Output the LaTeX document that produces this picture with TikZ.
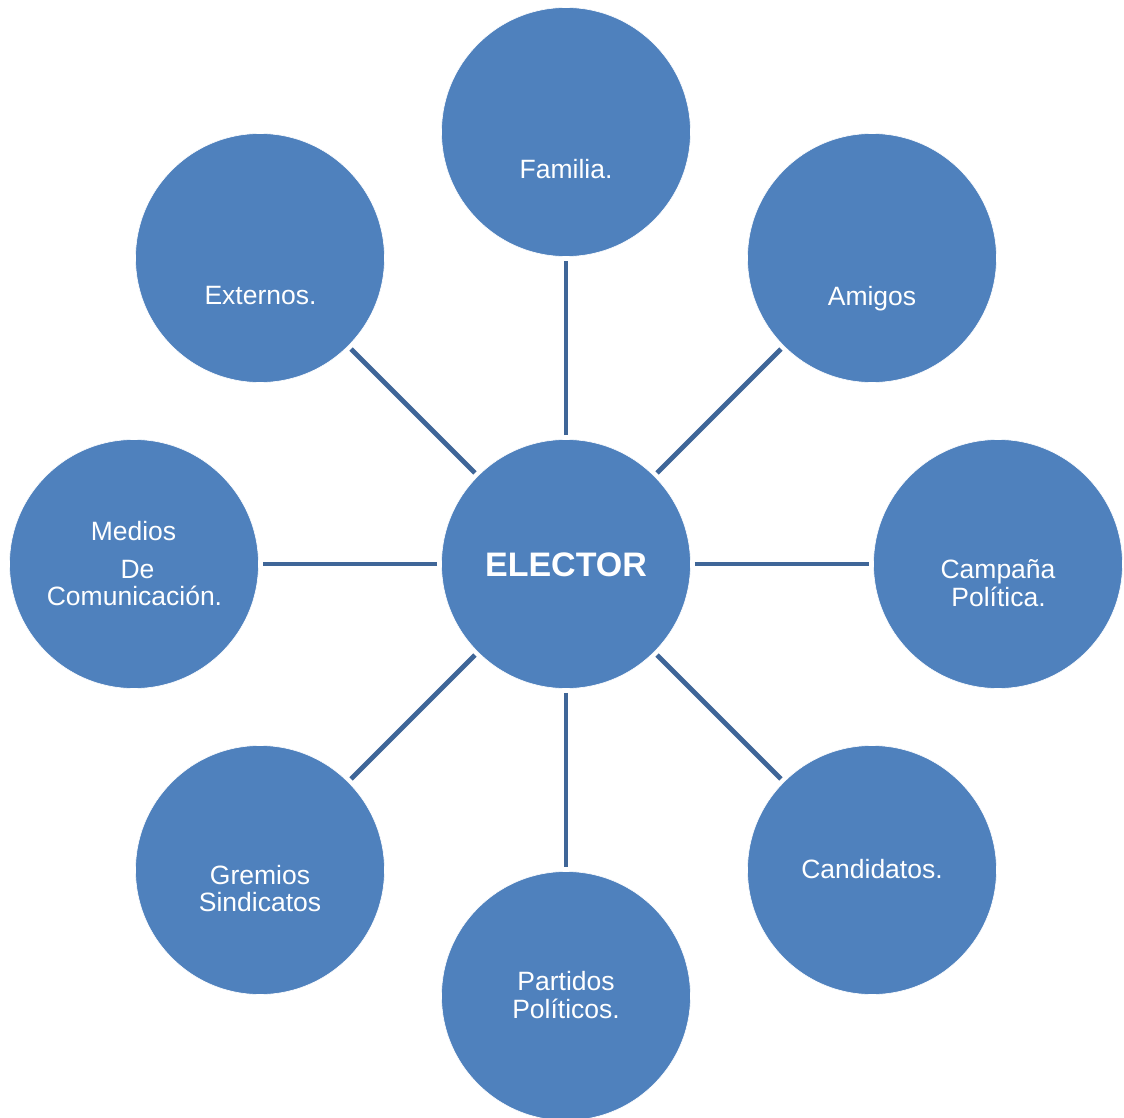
\documentclass[tikz,border=0pt]{standalone}
\usepackage{fontspec}
\setmainfont{Liberation Sans}
\definecolor{circfill}{HTML}{4F81BD}
\definecolor{linkcol}{HTML}{3F6698}
\begin{document}
\begin{tikzpicture}[x=1pt,y=-1pt,
  bubble/.style={circle,fill=circfill,draw=white,line width=0.6pt,minimum size=249pt,inner sep=0pt},
  lbl/.style={text=white,font=\fontsize{26.5}{28}\selectfont,anchor=base,inner sep=0pt,yshift=-1.5pt},
  link/.style={draw=linkcol,line width=4.8pt,shorten >=4pt,shorten <=4pt}]
\useasboundingbox (0,0) rectangle (1124,1118);
\node[bubble] (c) at (566,564) {};
\node[bubble] (fam) at (566,132) {};
\node[bubble] (ami) at (872,258) {};
\node[bubble] (cam) at (998,564) {};
\node[bubble] (can) at (872,870) {};
\node[bubble] (par) at (566,996) {};
\node[bubble] (gre) at (260,870) {};
\node[bubble] (med) at (134,564) {};
\node[bubble] (ext) at (260,258) {};
\foreach \n in {fam,ami,cam,can,par,gre,med,ext}{\draw[link] (c) -- (\n);}
\node[lbl,font=\fontsize{34}{36}\selectfont\bfseries] (tc) at (566,575) {ELECTOR};
\node[lbl] (tfam) at (566,177) {Familia.};
\node[lbl] (tami) at (872,304) {Amigos};
\node[lbl] (tcam1) at (998,577) {Campaña};
\node[lbl] (tcam2) at (998.5,605) {Política.};
\node[lbl] (tcan) at (872,877) {Candidatos.};
\node[lbl] (tpar1) at (566,989) {Partidos};
\node[lbl] (tpar2) at (566,1017) {Políticos.};
\node[lbl] (tgre1) at (260,883) {Gremios};
\node[lbl] (tgre2) at (260,910) {Sindicatos};
\node[lbl] (tmed1) at (133.5,539) {Medios};
\node[lbl] (tmed2) at (137.5,577) {De};
\node[lbl] (tmed3) at (134.5,604) {Comunicación.};
\node[lbl] (text) at (260.5,303) {Externos.};
\end{tikzpicture}
\end{document}
